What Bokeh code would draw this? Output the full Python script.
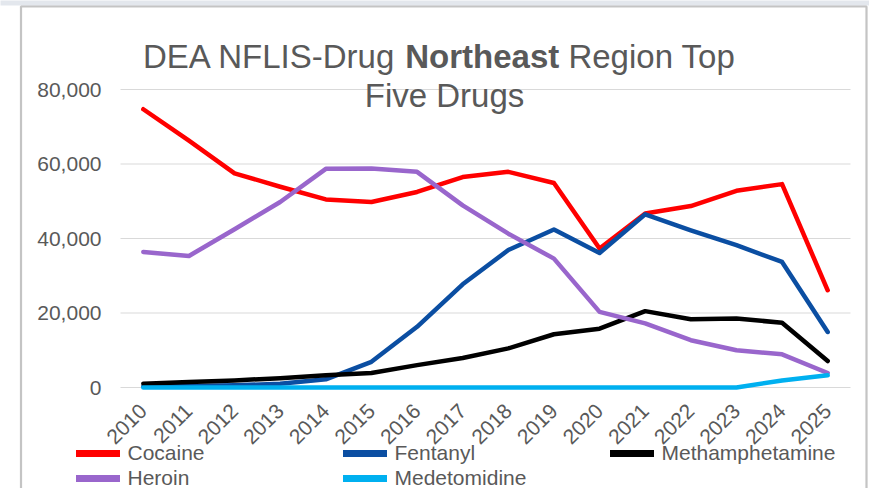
from math import pi, nan
from bokeh.plotting import figure
from bokeh.models import (Range1d, FixedTicker, NumeralTickFormatter, BasicTickFormatter,
                          Legend, LegendItem, Label, ColumnDataSource, BoxAnnotation)
from bokeh.embed import file_html
from bokeh.resources import INLINE

# ---- data ----
years = list(range(2010, 2026))
cocaine = [74700, 66300, 57500, 53900, 50500, 49800, 52500, 56500, 57900, 54900,
           37300, 46700, 48700, 52800, 54600, 26100]
fentanyl = [300, 400, 600, 1000, 2200, 6900, 16300, 27700, 36900, 42400,
            36100, 46500, 42200, 38200, 33700, 14900]
methamphetamine = [1000, 1500, 1900, 2500, 3300, 3900, 6000, 7900, 10500, 14300,
                   15800, 20500, 18300, 18500, 17400, 7100]
heroin = [36400, 35300, 42500, 49800, 58700, 58800, 57900, 48900, 41300, 34600,
          20300, 17200, 12700, 10000, 8900, 3900]
medetomidine = [0, 0, 0, 0, 0, 0, 0, 0, 0, 0, 0, 0, 0, 0, 1900, 3300]
y_ticks = [0, 20000, 40000, 60000, 80000]

series = [
    ("Cocaine", cocaine, "#FF0000"),
    ("Fentanyl", fentanyl, "#0B4EA2"),
    ("Methamphetamine", methamphetamine, "#000000"),
    ("Heroin", heroin, "#9966CC"),
    ("Medetomidine", medetomidine, "#00B0F0"),
]

FONT = "Liberation Sans"
GRAY = "#595959"
GRID = "#d9d9d9"

# ---- layout (page pixels; the figure sits at the page's top-left) ----
FIG_X, FIG_Y = 0, 0
W, H = 869, 488
PLOT_L, PLOT_R = 120, 850          # plot area left/right
Y_TOP_PAGE, Y_ZERO_PAGE = 89, 387  # top gridline / zero line
YMAX = y_ticks[-1]

px_per_year = (PLOT_R - PLOT_L) / len(years)
y_per_px = YMAX / (Y_ZERO_PAGE - Y_TOP_PAGE)

def x_at(page_x):
    return years[0] - 0.5 + (page_x - PLOT_L) / px_per_year

def y_at(page_y):
    return (Y_ZERO_PAGE - page_y) * y_per_px

p = figure(x_range=Range1d(x_at(FIG_X), x_at(FIG_X + W)),
           y_range=Range1d(y_at(FIG_Y + H), y_at(FIG_Y)),
           width=W, height=H, output_backend="svg", toolbar_location=None,
           title=None, min_border=0, min_border_left=0, min_border_right=0,
           min_border_top=0, min_border_bottom=0, outline_line_color=None,
           background_fill_color="white", border_fill_color="white")

x_left = years[0] - 0.5
x_right = years[-1] + 0.5

# light window band above the chart box
p.add_layout(BoxAnnotation(left=x_at(-20), right=x_at(900), top=y_at(-10),
                           bottom=y_at(5), fill_color="#e3e7ed", fill_alpha=1,
                           line_color=None, level="underlay"))

# horizontal gridlines spanning the plot area only
p.segment(x0=[x_left] * len(y_ticks), x1=[x_right] * len(y_ticks),
          y0=y_ticks, y1=y_ticks, line_color=GRID, line_width=1.2)

for name, vals, color in series:
    src = ColumnDataSource(dict(x=years, y=vals))
    p.line("x", "y", source=src, line_color=color, line_width=4.5,
           line_join="round", line_cap="round")

# legend swatches (thicker, like the reference legend); they draw nothing in the plot
legend_items = []
for name, vals, color in series:
    r = p.line(x=[nan], y=[nan], line_color=color, line_width=7, line_cap="round")
    legend_items.append(LegendItem(label=name, renderers=[r]))

p.xgrid.grid_line_color = None
p.ygrid.grid_line_color = None

xa = p.xaxis[0]
xa.fixed_location = 0
xa.ticker = FixedTicker(ticks=years)
xa.formatter = BasicTickFormatter(use_scientific=False)
xa.axis_line_color = None
xa.major_tick_line_color = None
xa.minor_tick_line_color = None
xa.major_tick_in = 0
xa.major_tick_out = 0
xa.major_label_orientation = pi / 4
xa.major_label_text_font = FONT
xa.major_label_text_font_size = "21px"
xa.major_label_text_color = GRAY
xa.major_label_standoff = 20

ya = p.yaxis[0]
ya.fixed_location = x_left
ya.ticker = FixedTicker(ticks=y_ticks)
ya.formatter = NumeralTickFormatter(format="0,0")
ya.axis_line_color = None
ya.major_tick_line_color = None
ya.minor_tick_line_color = None
ya.major_tick_in = 0
ya.major_tick_out = 0
ya.major_label_text_font = FONT
ya.major_label_text_font_size = "21px"
ya.major_label_text_color = GRAY
ya.major_label_standoff = 19

legend = Legend(items=legend_items, location=(75.5 - FIG_X, -2),
                orientation="horizontal", ncols=3,
                border_line_color=None, background_fill_alpha=0,
                padding=0, margin=0, spacing=1,
                glyph_width=44, glyph_height=24, label_width=214, label_height=24,
                label_standoff=8, label_text_font=FONT,
                label_text_font_size="21px", label_text_color=GRAY)
p.add_layout(legend)

# chart border (open at the bottom)
p.add_layout(BoxAnnotation(left=x_at(20.5), right=x_at(866), top=y_at(6),
                           bottom=y_at(700), fill_alpha=0,
                           line_color="#3a3a3a", line_width=2.2))

# title with a bold word
fs = 33
w1 = 7.946 * fs       # "DEA NFLIS-Drug " incl. trailing space
w2 = 4.667 * fs       # bold "Northeast"
sp = 0.278 * fs       # space before "Region"
start = 142.5
common = dict(text_font=FONT, text_font_size=f"{fs}px", text_color=GRAY,
              text_baseline="alphabetic", text_align="left")
p.add_layout(Label(x=x_at(start), y=y_at(56), text="DEA NFLIS-Drug", **common))
p.add_layout(Label(x=x_at(start + w1), y=y_at(56), text="Northeast",
                   text_font_style="bold", **common))
p.add_layout(Label(x=x_at(start + w1 + w2 + sp), y=y_at(56), text="Region Top", **common))
common2 = dict(common, text_align="center")
p.add_layout(Label(x=x_at(444), y=y_at(95), text="Five Drugs", **common2))

open("out.html", "w").write(file_html(p, INLINE))
